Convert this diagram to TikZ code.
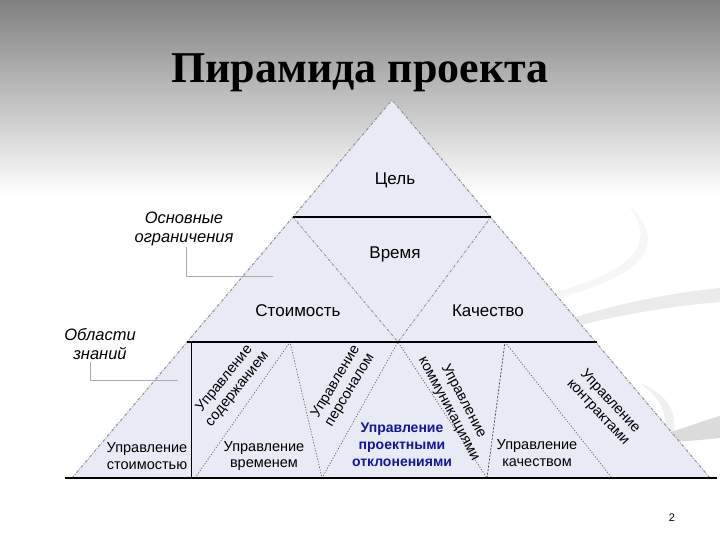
\documentclass[tikz,border=0pt]{standalone}
\usepackage{fontspec}
\setmainfont{Liberation Sans}
\newfontfamily\titlefont{Liberation Serif}
\definecolor{bgtop}{RGB}{128,128,128}
\definecolor{trifill}{RGB}{232,235,245}
\definecolor{edgegray}{RGB}{150,150,155}
\definecolor{devblue}{RGB}{20,20,160}
\definecolor{calloutgray}{RGB}{170,170,170}
\tikzset{
  edgeline/.style={draw=edgegray, line width=1.1pt, dash pattern=on 3pt off 1.5pt on 0.8pt off 1.5pt},
  innerline/.style={draw=edgegray!90!black, line width=0.8pt, dash pattern=on 2.5pt off 1.5pt on 0.6pt off 1.5pt},
  fineline/.style={draw=black!60, line width=0.7pt, dash pattern=on 1.2pt off 1.6pt},
  thickline/.style={draw=black, line width=2.6pt},
  toplab/.style={font=\fontsize{17}{20}\selectfont, align=center, inner sep=0pt},
  botlab/.style={font=\fontsize{14.5}{16.5}\selectfont, align=center, inner sep=0pt},
  devlab/.style={font=\bfseries\fontsize{14}{17}\selectfont, text=devblue, align=center, inner sep=0pt},
  sidelab/.style={font=\itshape\fontsize{16.5}{19}\selectfont, align=center, inner sep=0pt},
  callout/.style={draw=calloutgray, line width=0.8pt}
}
\begin{document}
\begin{tikzpicture}[x=1pt,y=-1pt]
\useasboundingbox (0,0) rectangle (720,540);
% background
\fill[white] (0,0) rectangle (720,540);
\shade[top color=bgtop, bottom color=white] (0,0) rectangle (720,195);
% swooshes
\fill[gray!7] (628,205) .. controls (652,235) and (648,268) .. (555,292) -- (560,297) .. controls (660,272) and (662,235) .. (628,205) -- cycle;
\fill[gray!16] (560,322) .. controls (620,302) and (680,292) .. (720,288) -- (720,302) .. controls (680,305) and (620,314) .. (570,328) -- cycle;
\fill[gray!12] (640,383) .. controls (668,395) and (676,410) .. (674,432) -- (664,436) .. controls (668,412) and (660,398) .. (640,383) -- cycle;
\fill[gray!28] (664,434) .. controls (685,428) and (705,420) .. (720,416) -- (720,438) .. controls (700,440) and (680,442) .. (664,442) -- cycle;
% key points
\coordinate (apex) at (392,100);
\coordinate (bl) at (72,478);
\coordinate (br) at (710,478);
\coordinate (h1l) at (293,217);
\coordinate (h1r) at (491,217);
\coordinate (h2l) at (187,342);
\coordinate (h2r) at (597,342);
\coordinate (vb) at (398,342);
\coordinate (vt) at (191,342);
\coordinate (vbot) at (191,478);
\coordinate (p1) at (195,478);
\coordinate (q1) at (290,342);
\coordinate (p2) at (322,478);
\coordinate (p3) at (487,478);
\coordinate (q3) at (505,342);
\coordinate (p4) at (612,478);
\coordinate (basel) at (65,478);
\coordinate (baser) at (717,478);
% triangle
\fill[trifill] (apex) -- (bl) -- (br) -- cycle;
\draw[edgeline] (bl) -- (apex) -- (br);
% inner lines of middle band
\draw[innerline] (h1l) -- (vb) -- (h1r);
% lower band lines
\draw[fineline] (p1) -- (q1) -- (p2) -- (vb) -- (p3);
\draw[draw=black!75, line width=0.7pt, dash pattern=on 2pt off 1.5pt] (p3) -- (q3);
\draw[fineline] (q3) -- (p4);
\draw[black, line width=0.8pt] (vt) -- (vbot);
% thick lines
\draw[thickline] (h1l) -- (h1r);
\draw[thickline] (h2l) -- (h2r);
\draw[thickline] (basel) -- (baser);
% callouts
\coordinate (c1a) at (186,247);
\coordinate (c1b) at (186,276);
\coordinate (c1c) at (273,276);
\draw[callout] (c1a) -- (c1b) -- (c1c);
\coordinate (c2a) at (90,362);
\coordinate (c2b) at (90,380);
\coordinate (c2c) at (178,380);
\draw[callout] (c2a) -- (c2b) -- (c2c);
% title
\node[font=\titlefont\bfseries\fontsize{44}{50}\selectfont, anchor=base, inner sep=0pt] (title) at (360,83) {Пирамида проекта};
% top labels
\node[toplab] (cel) at (395,180) {Цель};
\node[toplab] (vremya) at (395,254) {Время};
\node[toplab] (stoim) at (298,311) {Стоимость};
\node[toplab] (kach) at (488,311) {Качество};
% side labels
\node[sidelab] (osn) at (184,229) {Основные\\ограничения};
\node[sidelab] (obl) at (100,344) {Области\\знаний};
% bottom labels
\node[botlab] (ust) at (147,456) {Управление\\стоимостью};
\node[botlab] (uvr) at (264,456) {Управление\\временем};
\node[devlab] (uotk) at (402,445) {Управление\\проектными\\отклонениями};
\node[botlab] (ukach) at (537,453) {Управление\\качеством};
% rotated labels
\node[botlab, rotate=51] (usod) at (231,384) {Управление\\содержанием};
\node[botlab, rotate=59] (upers) at (343,386) {Управление\\персоналом};
\node[botlab, rotate=-62] (ukom) at (456,405) {Управление\\коммуникациями};
\node[botlab, rotate=-47] (ukon) at (604,407) {Управление\\контрактами};
% page number
\node[font=\fontsize{11}{13}\selectfont, inner sep=0pt] (pnum) at (672,518) {2};
\end{tikzpicture}
\end{document}
